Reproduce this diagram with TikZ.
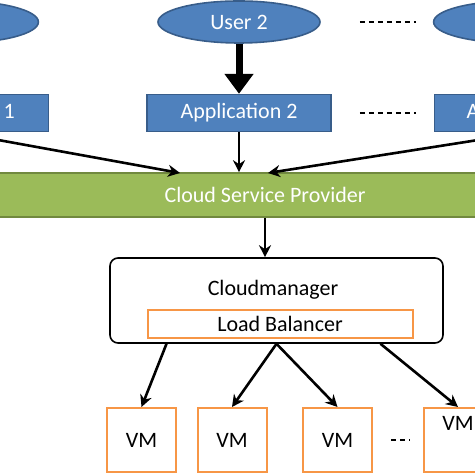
\documentclass[tikz,border=0pt]{standalone}
\usepackage{fontspec}
\setmainfont{Carlito}
\usetikzlibrary{shapes.geometric, arrows.meta, positioning, calc}

\definecolor{userblue}{HTML}{4F81BD}
\definecolor{blueedge}{HTML}{385D8A}
\definecolor{cspgreen}{HTML}{9BBB59}
\definecolor{greenedge}{HTML}{71893F}
\definecolor{vmorange}{HTML}{F79646}

\begin{document}
\begin{tikzpicture}[
    x=0.5pt, y=-0.5pt,
    font=\fontsize{11}{13}\selectfont,
    user/.style={ellipse, draw=blueedge, line width=0.8pt, fill=userblue, text=white, minimum width=81pt, minimum height=21pt, inner sep=0pt},
    app/.style={draw=blueedge, line width=0.8pt, fill=userblue, text=white, minimum width=92pt, minimum height=18.5pt, inner sep=0pt},
    vmbox/.style={draw=vmorange, line width=1pt, fill=white, minimum width=34.5pt, minimum height=32pt, inner sep=0pt},
    link/.style={-{Stealth[length=6pt,width=6pt]}, line width=1.3pt},
    dots/.style={dash pattern=on 2.5pt off 2pt, line width=0.8pt}
]
    \useasboundingbox (0,0) rectangle (474,474);

    % users and their applications
    \node[user] (user2) at (239,22) {User 2};
    \node[user, left=59pt of user2] (user1) {User 1};
    \node[user, right=56pt of user2] (userN) {User N};

    \node[app, below=25pt of user2] (app2) {Application 2};
    \node[app, left=48.5pt of app2] (app1) {Application 1};
    \node[app, right=51pt of app2] (appN) {Application N};

    \draw[dots, shorten <=19.5pt, shorten >=8.5pt] (user2.east) -- (userN.west);
    \draw[dots, shorten <=14pt, shorten >=9pt] (app2.east) -- (appN.west);

    \draw[-{Triangle[length=10pt,width=14pt]}, line width=3.5pt] (user2) -- (app2);

    % provider
    \node[draw=greenedge, line width=0.8pt, fill=cspgreen, text=white, minimum width=300pt, minimum height=22pt] (csp) at (265,195) {Cloud Service Provider};

    \coordinate (inL) at (180,173);
    \coordinate (inR) at (268,173);
    \draw[link] (app1.south) -- (inL);
    \draw[link] (app2.south) -- (app2.south |- csp.north);
    \draw[link] (appN.south) -- (inR);

    % manager
    \node[draw, line width=0.8pt, rounded corners=4pt, fill=white, minimum width=166.5pt, minimum height=42.5pt] (cm) at (276.5,300.5) {};
    \node (cmtext) at (273,290) {Cloudmanager};
    \node[draw=vmorange, line width=1pt, minimum width=132.5pt, minimum height=14pt, inner sep=0pt] (lb) at (280,324) {Load Balancer};

    \draw[link] (csp.south) -- (csp.south |- cm.north);

    % virtual machines
    \node[vmbox] (vm1) at (141.5,440) {VM};
    \node[vmbox] (vm2) at (232,440) {VM};
    \node[vmbox] (vm3) at (337.5,440) {VM};
    \node[vmbox] (vm4) at (458,440) {};
    \node[below=1pt of vm4.north] (vm4label) {VM};

    \draw[dots, shorten <=9pt, shorten >=6.5pt] (vm3.east) -- (vm4.west);

    \draw[link] ($(cm.south)+(-110,0)$) -- (vm1.north);
    \draw[link] (cm.south) -- (vm2.north);
    \draw[link] (cm.south) -- (vm3.north);
    \draw[link] ($(cm.south)+(104,0)$) -- (vm4.north);

\end{tikzpicture}
\end{document}
